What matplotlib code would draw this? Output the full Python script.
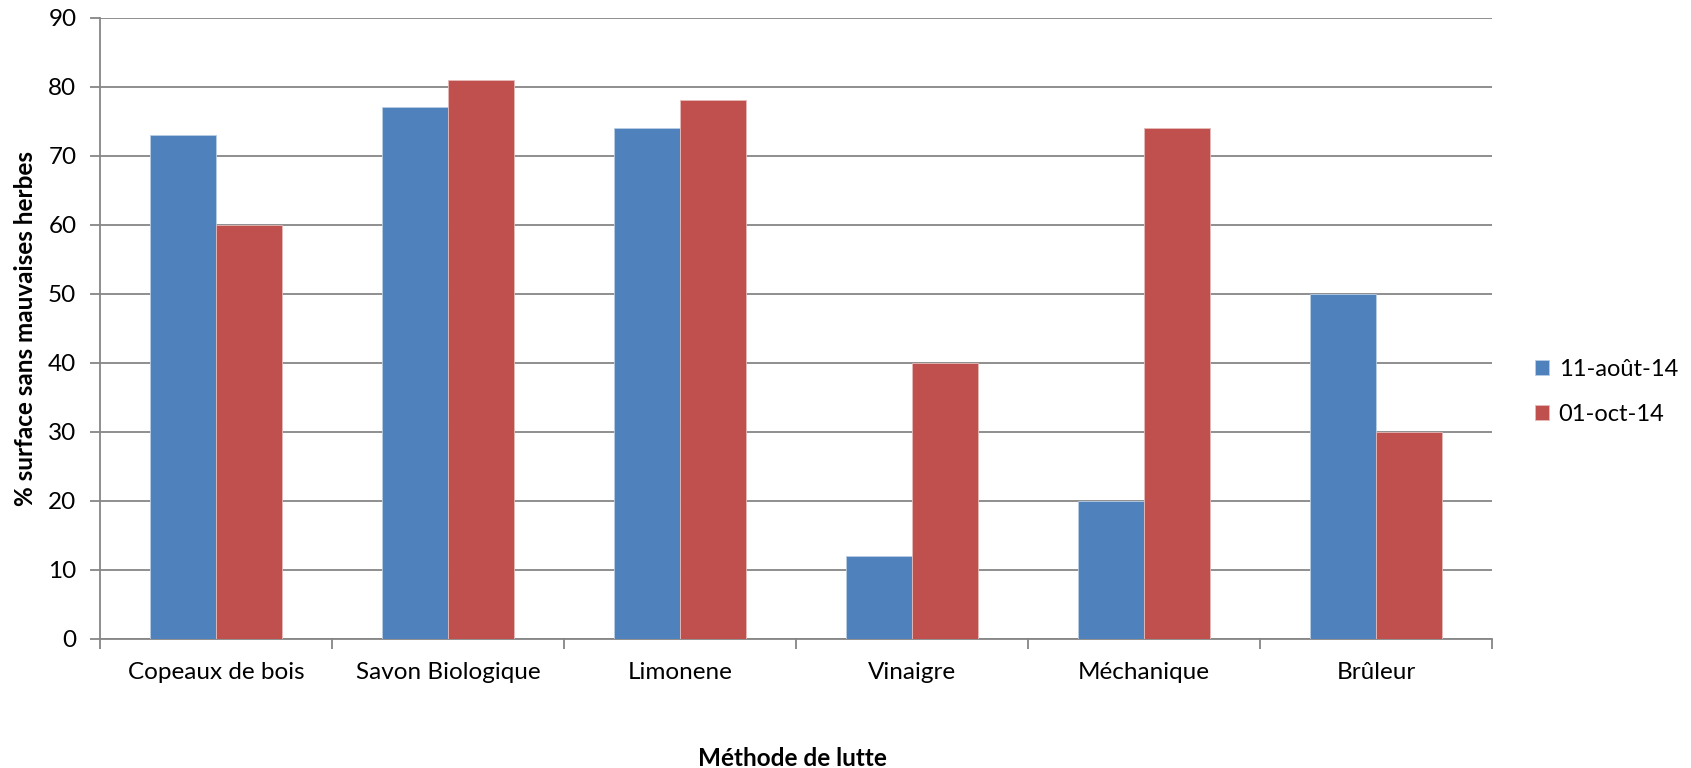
import numpy as np
import matplotlib.pyplot as plt

plt.rcParams['font.family'] = ['Lato', 'DejaVu Sans']

# Weed-free surface per control method, two survey dates
methodes = ['Copeaux de bois', 'Savon Biologique', 'Limonene', 'Vinaigre',
            'Méchanique', 'Brûleur']
aout = [73, 77, 74, 12, 20, 50]
octobre = [60, 81, 78, 40, 74, 30]
dates = ['11-août-14', '01-oct-14']

bleu = '#4F81BD'
rouge = '#C0504D'
gris = '#868686'

fig = plt.figure(figsize=(16.91, 7.68), dpi=100)
ax = fig.add_axes([100/1691, 1 - 638.7/768, (1492 - 100)/1691, (638.7 - 17.5)/768])

x = np.arange(len(methodes))
w = 0.285
ax.bar(x - w, aout, w, align='edge', color=bleu, edgecolor='#B9CDE5', linewidth=0.6,
       label=dates[0], zorder=3)
ax.bar(x, octobre, w, align='edge', color=rouge, edgecolor='#E6B9B8', linewidth=0.6,
       label=dates[1], zorder=3)

ax.set_xlim(-0.5, len(methodes) - 0.5)
ax.set_ylim(0, 90)
ax.set_yticks(range(0, 91, 10))
ax.yaxis.grid(True, color=gris, linewidth=1.3, zorder=0)

# category separators as major ticks, names on minor ticks
ax.set_xticks(np.arange(-0.5, len(methodes)))
ax.set_xticklabels([])
ax.set_xticks(x, minor=True)
ax.set_xticklabels(methodes, minor=True)
ax.tick_params(axis='x', which='major', length=7, width=1.3, color=gris)
ax.tick_params(axis='x', which='minor', length=0, pad=17, labelsize=17.5)
ax.tick_params(axis='y', length=7, width=1.3, color=gris, labelsize=17.5, pad=10)

for s in ['top', 'right']:
    ax.spines[s].set_visible(False)
for s in ['left', 'bottom']:
    ax.spines[s].set_color(gris)
    ax.spines[s].set_linewidth(1.3)

ax.set_ylabel('% surface sans mauvaises herbes', fontsize=17.5, fontweight='bold', labelpad=8)
fig.text(792/1691, 1 - 758/768, 'Méthode de lutte', fontsize=17.5, fontweight='bold',
         ha='center', va='center')

fig.legend(loc='center left', bbox_to_anchor=(1535/1691, 1 - 392/768), frameon=False,
           fontsize=17, handlelength=0.6, handleheight=0.6, handletextpad=0.4,
           labelspacing=1.0, borderpad=0, borderaxespad=0)

fig.savefig('out.png', dpi=100)
